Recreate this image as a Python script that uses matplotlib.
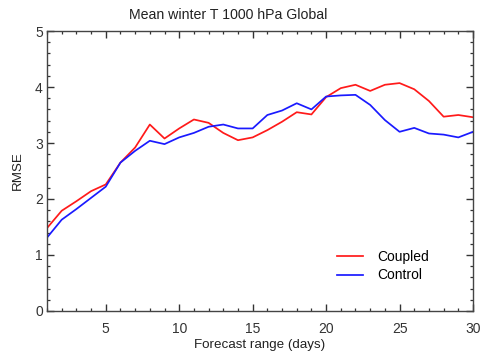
import matplotlib

matplotlib.use("Agg")
import matplotlib.pyplot as plt
from matplotlib.ticker import MultipleLocator

plt.rcParams["font.family"] = ["Liberation Sans", "DejaVu Sans"]

days = list(range(1, 31))
rmse_coupled = [
    1.48, 1.79, 1.96, 2.14, 2.26, 2.65, 2.92, 3.33, 3.08, 3.26,
    3.42, 3.36, 3.18, 3.05, 3.10, 3.23, 3.38, 3.55, 3.51, 3.82,
    3.98, 4.04, 3.93, 4.04, 4.07, 3.96, 3.75, 3.47, 3.50, 3.46,
]
rmse_control = [
    1.31, 1.63, 1.82, 2.02, 2.22, 2.65, 2.86, 3.04, 2.98, 3.10,
    3.18, 3.29, 3.33, 3.26, 3.26, 3.50, 3.58, 3.71, 3.60, 3.83,
    3.85, 3.86, 3.68, 3.41, 3.20, 3.27, 3.17, 3.15, 3.10, 3.20,
]

fig = plt.figure(figsize=(4.81, 3.54), dpi=100)
ax = fig.add_axes([0.0977, 0.1215, 0.8857, 0.7909])

ax.plot(days, rmse_coupled, color="#ff1a1a", linewidth=1.25, label="Coupled")
ax.plot(days, rmse_control, color="#1a1aff", linewidth=1.25, label="Control")

ax.set_xlim(1, 30)
ax.set_ylim(0, 5)
ax.xaxis.set_major_locator(MultipleLocator(5))
ax.xaxis.set_minor_locator(MultipleLocator(1))
ax.yaxis.set_major_locator(MultipleLocator(1))
ax.yaxis.set_minor_locator(MultipleLocator(0.2))
ax.tick_params(which="both", direction="in", top=True, right=True, colors="#333333", labelsize=10)
ax.tick_params(which="major", length=5, width=1.0)
ax.tick_params(which="minor", length=2.5, width=0.9)
ax.tick_params(axis="x", which="major", pad=8)
ax.tick_params(axis="y", which="major", pad=3)
for spine in ax.spines.values():
    spine.set_color("#444444")
    spine.set_linewidth(1.0)

ax.set_xlabel("Forecast range (days)", fontsize=9.6, color="#222222", labelpad=2)
ax.set_ylabel("RMSE", fontsize=9.6, color="#222222", labelpad=8)
fig.text(228 / 481, 1 - 15 / 354, "Mean winter T 1000 hPa Global", ha="center", va="center",
         fontsize=10.2, color="#222222")

ax.legend(frameon=False, fontsize=10, loc="center left", bbox_to_anchor=(337 / 481, 1 - 266 / 354),
          bbox_transform=fig.transFigure, borderpad=0, borderaxespad=0,
          handlelength=1.9, handletextpad=1.0, labelspacing=0.35)

fig.savefig("out.png", dpi=100)
